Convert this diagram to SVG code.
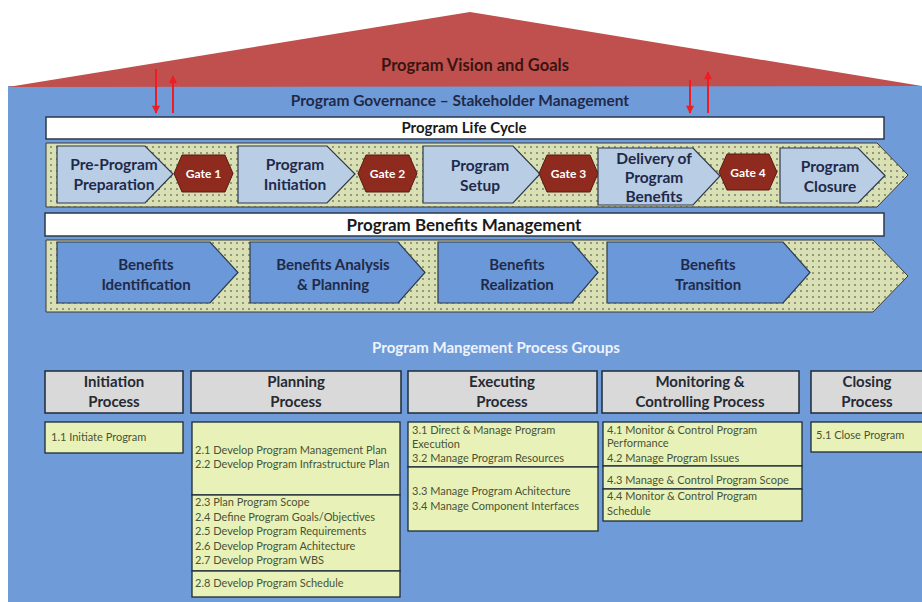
<svg xmlns="http://www.w3.org/2000/svg" width="922" height="602" viewBox="0 0 922 602">
<defs>
<pattern id="dots" width="6" height="6" patternUnits="userSpaceOnUse">
<rect width="6" height="6" fill="#d9e0b4"/>
<circle cx="3" cy="3" r="0.75" fill="#2a2a2a"/>
</pattern>
<marker id="ah2" viewBox="0 0 10 10" refX="9" refY="5" markerWidth="12" markerHeight="8" orient="auto" markerUnits="userSpaceOnUse">
<path d="M0,0 L10,5 L0,10 z" fill="#ee1c25"/>
</marker>
</defs>
<style>
text{font-family:Lato,"Liberation Sans",sans-serif;}
.t{font-weight:bold;fill:#1f2a4a;text-anchor:middle;}
.hdr{font-weight:bold;fill:#262a33;text-anchor:middle;font-size:15px;}
.lc{fill:#b9cde5;stroke:#2d3a4a;stroke-width:1.2;}
.bn{fill:#6b98d8;stroke:#2d3a4a;stroke-width:1.2;}
.gate{fill:#8e2a1e;stroke:#5a1a10;stroke-width:1;}
.gt{font-weight:bold;fill:#ffffff;font-size:12px;text-anchor:middle;}
.band{fill:url(#dots);stroke:#3a3a3a;stroke-width:1;}
.bar{fill:#ffffff;stroke:#2d3a4a;stroke-width:1.5;}
.ph{fill:#d9d9d9;stroke:#1d2b3a;stroke-width:1.5;}
.gb{fill:#e8f2b8;stroke:#1d2b3a;stroke-width:1.3;}
.li{font-size:11px;fill:#4a5236;}
.arr{stroke:#ee1c25;stroke-width:2;fill:none;}
</style>

<rect x="8" y="86" width="914" height="516" fill="#6f9bd9"/>
<g id="roof">
<polygon points="8,87 470,12 922,86" fill="#c0504d"/>
<text class="t" x="475" y="71" font-size="16.5" style="fill:#3a1510">Program Vision and Goals</text>
</g>

<g id="governance">
<text class="t" x="460" y="106" font-size="15.5">Program Governance – Stakeholder Management</text>
</g>

<g id="connectors">
<line class="arr" x1="156" y1="69" x2="156" y2="113" marker-end="url(#ah2)"/>
<line class="arr" x1="173" y1="113" x2="173" y2="76" marker-end="url(#ah2)"/>
<line class="arr" x1="690" y1="80" x2="690" y2="113" marker-end="url(#ah2)"/>
<line class="arr" x1="708" y1="113" x2="708" y2="72" marker-end="url(#ah2)"/>
</g>

<g id="life-cycle-bar">
<rect class="bar" x="46" y="117" width="838" height="22"/>
<text class="t" x="464" y="133" font-size="15" style="fill:#1a1a1a">Program Life Cycle</text>
</g>
<g id="life-cycle-band">
<polygon class="band" points="46,143 877,143 908,175 877,207 46,207"/>
</g>
<g id="pre-program">
<polygon class="lc" points="57,146 145,146 173,174 145,203 57,203"/>
<text class="t" x="114" y="170" font-size="15.5">Pre-Program</text>
<text class="t" x="114" y="190" font-size="15.5">Preparation</text>
</g>
<g id="gate1">
<polygon class="gate" points="182,155 225,155 233,173.5 225,192 182,192 174,173.5"/>
<text class="gt" x="203.5" y="178">Gate 1</text>
</g>
<g id="program-initiation">
<polygon class="lc" points="238,146 327,146 355,174 327,203 238,203"/>
<text class="t" x="295" y="170" font-size="15.5">Program</text>
<text class="t" x="295" y="190" font-size="15.5">Initiation</text>
</g>
<g id="gate2">
<polygon class="gate" points="366,155 409,155 417,173.5 409,192 366,192 358,173.5"/>
<text class="gt" x="387.5" y="178">Gate 2</text>
</g>
<g id="program-setup">
<polygon class="lc" points="423,146 513,146 540,174 513,203 423,203"/>
<text class="t" x="480" y="171" font-size="15.5">Program</text>
<text class="t" x="480" y="191" font-size="15.5">Setup</text>
</g>
<g id="gate3">
<polygon class="gate" points="547,155 590,155 598,173.5 590,192 547,192 539,173.5"/>
<text class="gt" x="568.5" y="178">Gate 3</text>
</g>
<g id="delivery">
<polygon class="lc" points="598,148 693,148 720,176 693,205 598,205"/>
<text class="t" x="654" y="164" font-size="15.5">Delivery of</text>
<text class="t" x="654" y="183" font-size="15.5">Program</text>
<text class="t" x="654" y="202" font-size="15.5">Benefits</text>
</g>
<g id="gate4">
<polygon class="gate" points="727,154 769,154 777,172 769,190 727,190 719,172"/>
<text class="gt" x="748" y="176.5">Gate 4</text>
</g>
<g id="program-closure">
<polygon class="lc" points="780,148 858,148 885,175.5 858,203 780,203"/>
<text class="t" x="830" y="172" font-size="15.5">Program</text>
<text class="t" x="830" y="192" font-size="15.5">Closure</text>
</g>

<g id="benefits-bar">
<rect class="bar" x="45" y="213" width="839" height="23"/>
<text class="t" x="464" y="230.5" font-size="17" style="fill:#1a1a1a">Program Benefits Management</text>
</g>
<g id="benefits-band">
<polygon class="band" points="46,240 873,240 908,276 873,312 46,312"/>
</g>
<g id="benefits-identification">
<polygon class="bn" points="57,242 210,242 238,272.5 210,303 57,303"/>
<text class="t" x="146" y="270" font-size="15">Benefits</text>
<text class="t" x="146" y="290" font-size="15">Identification</text>
</g>
<g id="benefits-analysis">
<polygon class="bn" points="250,242 398,242 425,272.5 398,303 250,303"/>
<text class="t" x="333" y="270" font-size="15">Benefits Analysis</text>
<text class="t" x="333" y="290" font-size="15">&amp; Planning</text>
</g>
<g id="benefits-realization">
<polygon class="bn" points="438,242 572,242 598,272.5 572,303 438,303"/>
<text class="t" x="517" y="270" font-size="15">Benefits</text>
<text class="t" x="517" y="290" font-size="15">Realization</text>
</g>
<g id="benefits-transition">
<polygon class="bn" points="607,242 783,242 810,272.5 783,303 607,303"/>
<text class="t" x="708" y="270" font-size="15">Benefits</text>
<text class="t" x="708" y="290" font-size="15">Transition</text>
</g>

<g id="process-groups-title">
<text x="496" y="353" font-size="15" font-weight="bold" fill="#eef3fb" text-anchor="middle">Program Mangement Process Groups</text>
</g>

<g id="initiation">
<rect class="ph" x="45" y="371" width="138" height="42"/>
<text class="hdr" x="114" y="387">Initiation</text>
<text class="hdr" x="114" y="407">Process</text>
<rect class="gb" x="45" y="422" width="138" height="31"/>
<text class="li" x="51" y="441">1.1 Initiate Program</text>
</g>

<g id="planning">
<rect class="ph" x="191" y="371" width="210" height="42"/>
<text class="hdr" x="296" y="387">Planning</text>
<text class="hdr" x="296" y="407">Process</text>
<rect class="gb" x="192" y="422" width="208" height="73"/>
<text class="li" x="195" y="454">2.1 Develop Program Management Plan</text>
<text class="li" x="195" y="468">2.2 Develop Program Infrastructure Plan</text>
<rect class="gb" x="192" y="495" width="208" height="76"/>
<text class="li" x="195" y="506">2.3 Plan Program Scope</text>
<text class="li" x="195" y="521">2.4 Define Program Goals/Objectives</text>
<text class="li" x="195" y="535">2.5 Develop Program  Requirements</text>
<text class="li" x="195" y="550">2.6 Develop Program  Achitecture</text>
<text class="li" x="195" y="564">2.7 Develop Program WBS</text>
<rect class="gb" x="192" y="571" width="208" height="26"/>
<text class="li" x="195" y="587">2.8 Develop Program Schedule</text>
</g>

<g id="executing">
<rect class="ph" x="408" y="371" width="189" height="42"/>
<text class="hdr" x="502" y="387">Executing</text>
<text class="hdr" x="502" y="407">Process</text>
<rect class="gb" x="408" y="422" width="190" height="45"/>
<text class="li" x="412" y="434">3.1 Direct &amp; Manage Program</text>
<text class="li" x="412" y="448">Execution</text>
<text class="li" x="412" y="462">3.2 Manage Program Resources</text>
<rect class="gb" x="408" y="467" width="190" height="64"/>
<text class="li" x="412" y="495">3.3 Manage Program Achitecture</text>
<text class="li" x="412" y="510">3.4 Manage Component Interfaces</text>
</g>

<g id="monitoring">
<rect class="ph" x="602" y="371" width="197" height="42"/>
<text class="hdr" x="700" y="387">Monitoring &amp;</text>
<text class="hdr" x="700" y="407">Controlling Process</text>
<rect class="gb" x="603" y="422" width="199" height="44"/>
<text class="li" x="607" y="434">4.1 Monitor &amp; Control Program</text>
<text class="li" x="607" y="447">Performance</text>
<text class="li" x="607" y="462">4.2 Manage Program Issues</text>
<rect class="gb" x="603" y="466" width="199" height="23"/>
<text class="li" x="607" y="484">4.3 Manage &amp; Control Program Scope</text>
<rect class="gb" x="603" y="489" width="199" height="32"/>
<text class="li" x="607" y="500">4.4 Monitor &amp; Control Program</text>
<text class="li" x="607" y="515">Schedule</text>
</g>

<g id="closing">
<rect class="ph" x="811" y="371" width="120" height="42"/>
<text class="hdr" x="867" y="387">Closing</text>
<text class="hdr" x="867" y="407">Process</text>
<rect class="gb" x="811" y="422" width="120" height="30"/>
<text class="li" x="816" y="439">5.1 Close Program</text>
</g>
</svg>
